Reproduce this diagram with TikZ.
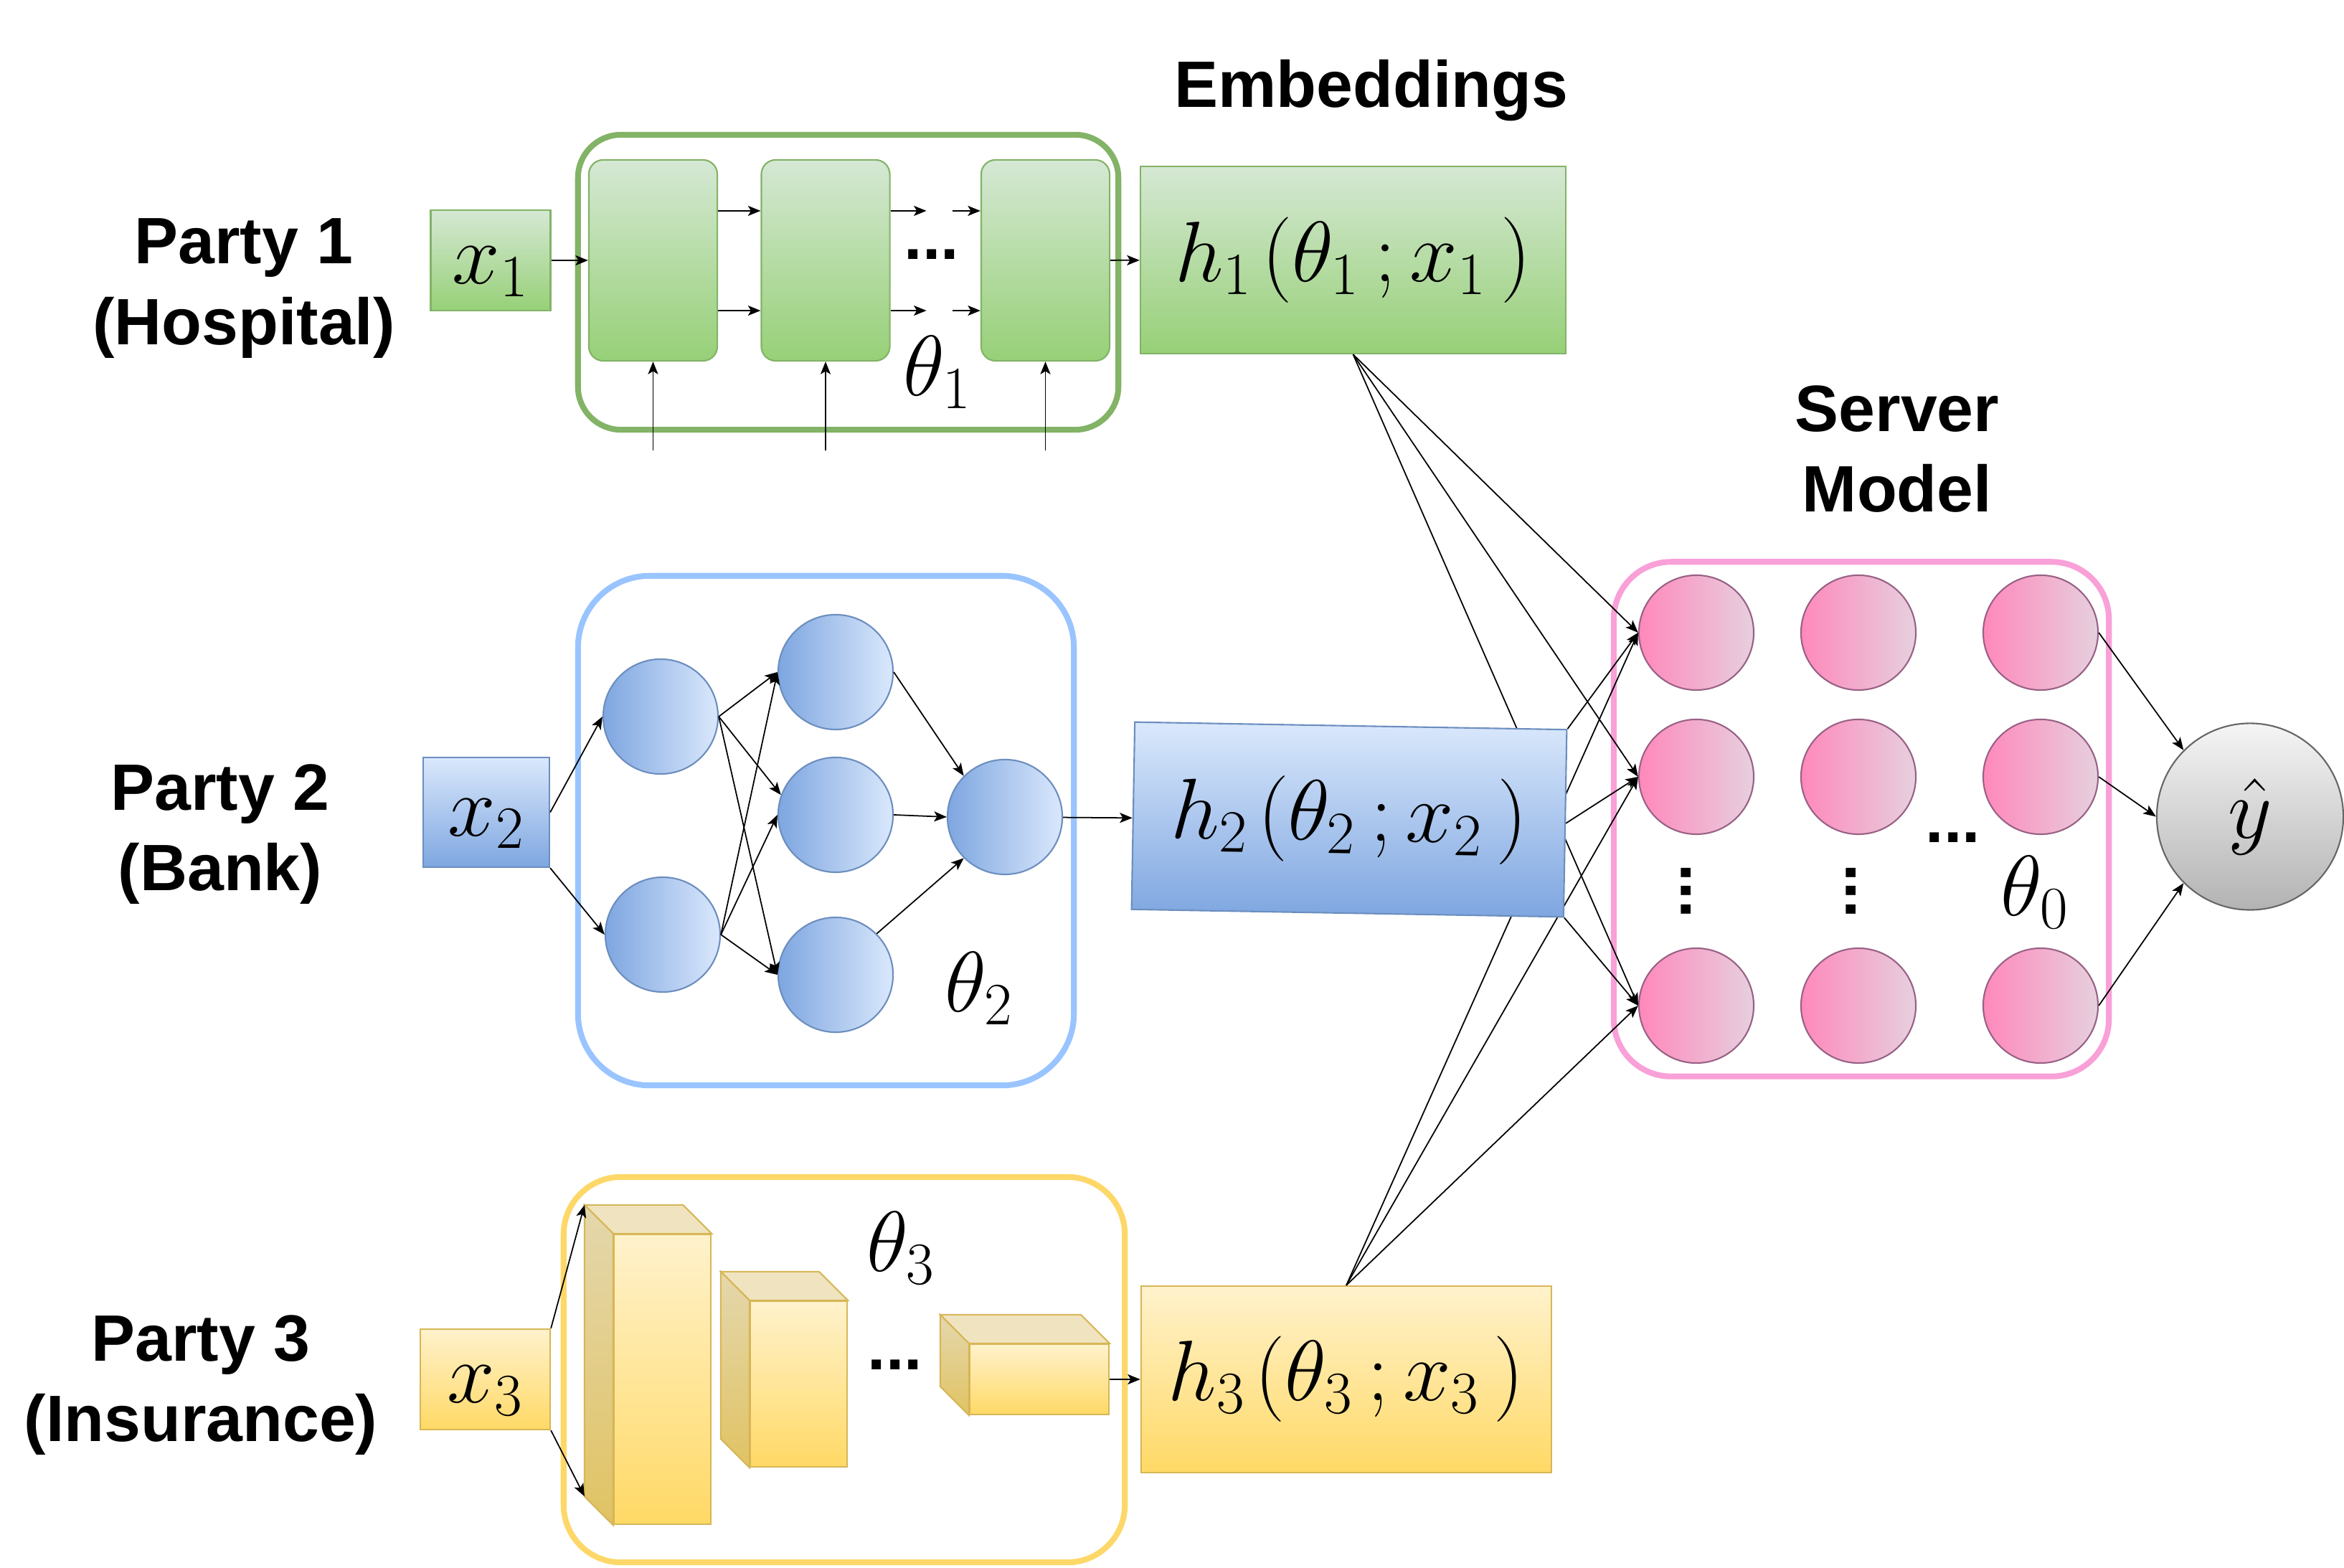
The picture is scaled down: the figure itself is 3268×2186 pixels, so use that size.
\RequirePackage{fix-cm}
\documentclass[tikz,border=0pt]{standalone}
\usepackage{amsmath}
\usepackage{fontspec}
\newfontfamily\lblfont{Liberation Sans}
\usetikzlibrary{arrows.meta}

\definecolor{grnline}{HTML}{82B366}
\definecolor{grntop}{HTML}{D5E8D4}
\definecolor{grnbot}{HTML}{97D077}
\definecolor{bluline}{HTML}{6C8EBF}
\definecolor{blutop}{HTML}{DAE8FC}
\definecolor{blubot}{HTML}{7EA6E0}
\definecolor{bluframe}{HTML}{99C4FF}
\definecolor{ylwline}{HTML}{D6B656}
\definecolor{ylwtop}{HTML}{FFF2CC}
\definecolor{ylwbot}{HTML}{FFD966}
\definecolor{ylwframe}{HTML}{FDD869}
\definecolor{cubetop}{HTML}{F0E4C0}
\definecolor{cubeside1}{HTML}{E4D7AD}
\definecolor{cubeside2}{HTML}{E1C363}
\definecolor{pnkline}{HTML}{996185}
\definecolor{pnkleft}{HTML}{FF88BB}
\definecolor{pnkright}{HTML}{E6D0DE}
\definecolor{pnkframe}{HTML}{F9A0D8}
\definecolor{gryline}{HTML}{666666}
\definecolor{grytop}{HTML}{F5F5F5}
\definecolor{grybot}{HTML}{B3B3B3}

\newcommand{\lblsize}{\lblfont\bfseries\fontsize{26}{32}\selectfont}
\newcommand{\mthsize}{\fontsize{34}{40}\selectfont}

\begin{document}
\begin{tikzpicture}[x=0.01cm,y=-0.01cm,line width=0.5pt,
    >={Stealth[length=5pt,width=4pt,inset=1.2pt]},
    lbl/.style={font=\lblsize,align=center},
    mth/.style={font=\mthsize},
    grnbox/.style={draw=grnline,top color=grntop,bottom color=grnbot,line width=0.6pt},
    blubox/.style={draw=bluline,top color=blutop,bottom color=blubot,line width=0.6pt},
    ylwbox/.style={draw=ylwline,top color=ylwtop,bottom color=ylwbot,line width=0.6pt},
    xbox/.style={mth,inner sep=0pt,text height=0.9cm,text depth=0.25cm},
    glayer/.style={grnbox,rounded corners=0.2cm,minimum width=1.79cm,minimum height=2.8cm},
    bnode/.style={circle,draw=bluline,left color=blubot,right color=blutop,minimum size=1.6cm,line width=0.6pt},
    snode/.style={circle,draw=pnkline,left color=pnkleft,right color=pnkright,minimum size=1.6cm,line width=0.6pt},
    partyframe/.style={draw=#1,line width=2.3pt,fill=white},
    cubefront/.style={ylwbox},
    cubetopface/.style={draw=ylwline,fill=cubetop,line width=0.6pt},
    cubesideface/.style={draw=ylwline,top color=cubeside1,bottom color=cubeside2,line width=0.6pt}]
    \useasboundingbox (0,0) rectangle (3268,2186);

    % labels
    \node[lbl] (p1) at (340,402) {Party 1\\(Hospital)};
    \node[lbl] (p2) at (307,1163) {Party 2\\(Bank)};
    \node[lbl] (p3) at (280,1931) {Party 3\\(Insurance)};
    \node[lbl] (emb) at (1912,126) {Embeddings};
    \node[lbl] (srv) at (2645,626) {Server\\Model};

    % party 1
    \node[partyframe=grnline,rounded corners=0.6cm,minimum width=7.53cm,minimum height=4.11cm] (f1) at (1182.5,393.5) {};
    \node[grnbox,xbox,minimum width=1.67cm,minimum height=1.4cm] (x1) at (684,363) {$x_1$};
    \node[glayer] (g1) at (910.5,363) {};
    \node[glayer] (g2) at (1151,363) {};
    \node[glayer] (g3) at (1457.5,363) {};
    \node[grnbox,mth,minimum width=5.93cm,minimum height=2.61cm] (h1) at (1886.5,362.5) {$h_1\mkern2mu(\theta_1\mkern3mu;x_1\mkern3mu)$};
    \node[mth] (t1) at (1307,519) {$\theta_1$};
    \node[lbl] (d1) at (1299,355) {...};
    \draw[->] (x1) -- (g1);
    \draw[->] ([yshift=0.69cm]g1.east) -- ([yshift=0.69cm]g2.west);
    \draw[->] ([yshift=-0.7cm]g1.east) -- ([yshift=-0.7cm]g2.west);
    \draw[->] ([yshift=0.69cm]g2.east) -- ++(50,0);
    \draw[->] ([yshift=-0.7cm]g2.east) -- ++(50,0);
    \draw[->] ([yshift=0.69cm,xshift=-0.39cm]g3.west) -- ([yshift=0.69cm]g3.west);
    \draw[->] ([yshift=-0.7cm,xshift=-0.39cm]g3.west) -- ([yshift=-0.7cm]g3.west);
    \draw[->] (g3) -- (h1);
    \foreach \g in {g1,g2,g3}
        \draw[->] ([yshift=-1.24cm]\g.south) -- (\g.south);

    % party 2
    \node[partyframe=bluframe,rounded corners=1cm,minimum width=6.91cm,minimum height=7.1cm] (f2) at (1151.5,1158) {};
    \node[blubox,xbox,minimum width=1.76cm,minimum height=1.53cm] (x2) at (678,1132.5) {$x_2$};
    \node[bnode] (b1) at (921,999) {};
    \node[bnode] (b2) at (924,1303) {};
    \node[bnode] (b3) at (1165,937) {};
    \node[bnode] (b4) at (1165,1136) {};
    \node[bnode] (b5) at (1165,1359) {};
    \node[bnode] (b6) at (1401,1139) {};
    \node[mth] (t2) at (1365,1378) {$\theta_2$};
    \draw[->] (x2.east) -- (b1.west);
    \draw[->] (x2.south east) -- (b2.west);
    \draw[->] (b1.east) -- (b3.west);
    \draw[->] (b1.east) -- (b4.160);
    \draw[->] (b1.east) -- (b5.west);
    \draw[->] (b2.east) -- (b3.west);
    \draw[->] (b2.east) -- (b4.west);
    \draw[->] (b2.east) -- (b5.west);
    \draw[->] (b3.east) -- (b6.north west);
    \draw[->] (b4.east) -- (b6.west);
    \draw[->] (b5.north east) -- (b6.south west);

    % party 3
    \node[partyframe=ylwframe,rounded corners=0.8cm,minimum width=7.82cm,minimum height=5.37cm] (f3) at (1177,1909.5) {};
    \node[ylwbox,xbox,minimum width=1.81cm,minimum height=1.4cm] (x3) at (676.5,1923) {$x_3$};
    \node[cubefront,minimum width=1.35cm,minimum height=4.04cm] (k1) at (923.5,1923) {};
    \node[cubefront,minimum width=1.35cm,minimum height=2.31cm] (k2) at (1113.5,1929.5) {};
    \node[cubefront,minimum width=1.94cm,minimum height=0.98cm] (k3) at (1449,1923) {};
    \foreach \k in {k1,k2,k3} {
        \draw[cubetopface] (\k.north west) -- ([shift={(-40,-40)}]\k.north west)
            -- ([shift={(-40,-40)}]\k.north east) -- (\k.north east) -- cycle;
        \draw[cubesideface] (\k.north west) -- ([shift={(-40,-40)}]\k.north west)
            -- ([shift={(-40,-40)}]\k.south west) -- (\k.south west) -- cycle;
    }
    \coordinate (k1a) at ([shift={(-40,-40)}]k1.north west);
    \coordinate (k1b) at ([shift={(-40,-40)}]k1.south west);
    \node[ylwbox,mth,minimum width=5.72cm,minimum height=2.6cm] (h3) at (1877,1923) {$h_3\mkern2mu(\theta_3\mkern3mu;x_3\mkern3mu)$};
    \node[mth] (t3) at (1256,1740) {$\theta_3$};
    \node[lbl] (d3) at (1248,1903) {...};
    \draw[->] (x3.north east) -- (k1a);
    \draw[->] (x3.south east) -- (k1b);
    \draw[->] (k3) -- (h3);

    % server model
    \node[partyframe=pnkframe,rounded corners=0.8cm,minimum width=6.9cm,minimum height=7.17cm] (f0) at (2595,1142) {};
    \foreach \c/\xx in {1/2365,2/2591,3/2845}
        \foreach \r/\yy in {1/882,2/1083,3/1402}
            \node[snode] (s\r\c) at (\xx,\yy) {};
    \node[lbl,rotate=90] (v1) at (2351,1242) {...};
    \node[lbl,rotate=90] (v2) at (2581,1242) {...};
    \node[lbl] (d0) at (2723,1168) {...};
    \node[mth] (t0) at (2837,1244) {$\theta_0$};
    \node[circle,draw=gryline,top color=grytop,bottom color=grybot,line width=0.6pt,minimum size=2.6cm,mth] (yh) at (3137,1138.5) {$\hat{y}$};
    \draw[->] (s13.east) -- (yh.north west);
    \draw[->] (s23.east) -- (yh.west);
    \draw[->] (s33.east) -- (yh.south west);

    % embeddings to server
    \foreach \r in {1,2,3} {
        \draw[->] (h1.south) -- (s\r1.west);
        \draw[->] (h3.north) -- (s\r1.west);
    }
    \node[blubox,mth,rotate=-1,minimum width=6.02cm,minimum height=2.61cm] (h2) at (1881,1142.5) {$h_2\mkern2mu(\theta_2\mkern3mu;x_2\mkern3mu)$};
    \draw[->] (b6) -- (h2);
    \draw[->] (h2.north east) -- (s11.west);
    \draw[->] (h2.east) -- (s21.west);
    \draw[->] (h2.south east) -- (s31.west);
\end{tikzpicture}
\end{document}
